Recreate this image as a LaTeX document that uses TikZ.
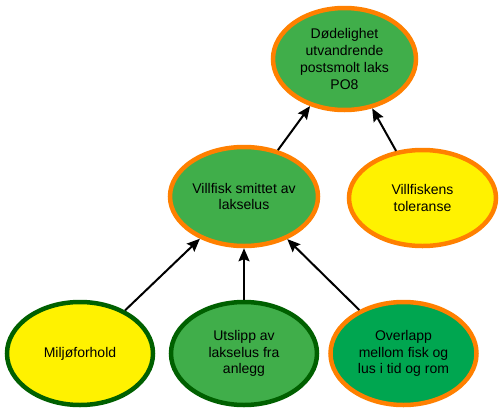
\documentclass[tikz,border=0pt]{standalone}
\usepackage{fontspec}
\setmainfont{Liberation Sans}
\usepackage{tikz}
\usetikzlibrary{shapes.geometric,arrows.meta}
\definecolor{FillGreen}{RGB}{64,174,74}
\definecolor{FillDeep}{RGB}{0,166,80}
\definecolor{FillYellow}{RGB}{255,242,0}
\definecolor{LineOrange}{RGB}{255,128,0}
\definecolor{LineGreen}{RGB}{0,96,0}
\tikzstyle{Factor} = [ellipse, line width=4.5pt, minimum width=146pt,
    minimum height=101pt, inner sep=0pt, align=center,
    font=\fontsize{14}{16.8}\selectfont]
\tikzstyle{arrow} = [line width=2pt,-{Stealth[length=13pt,width=11pt,inset=2pt]}]

\begin{document}
\begin{tikzpicture}[x=1pt,y=-1pt]
        \useasboundingbox (0,0) rectangle (504,413);
        \node[Factor, draw=LineOrange, fill=FillGreen, minimum width=143pt, minimum height=102pt] (Mortality) at (344.5,59) {Dødelighet\\utvandrende\\postsmolt laks\\PO8}; %top
        \node[Factor, draw=LineOrange, fill=FillGreen, minimum width=148pt, minimum height=99pt] (Infected) at (244,196.5) {Villfisk smittet av\\lakselus}; %middle left
        \node[Factor, draw=LineOrange, fill=FillYellow, minimum width=147pt, minimum height=96pt] (Tolerance) at (422.5,198) {Villfiskens\\toleranse}; %middle right
        \node[Factor, draw=LineGreen, fill=FillYellow, minimum height=103pt] (Environment) at (80,353.5) {Miljøforhold}; %bottom left
        \node[Factor, draw=LineGreen, fill=FillGreen, minimum height=103pt] (Release) at (244,353.5) {Utslipp av\\lakselus fra\\anlegg}; %bottom middle
        \node[Factor, draw=LineOrange, fill=FillDeep, minimum height=103pt] (Overlap) at (403.5,353.5) {Overlapp\\mellom fisk og\\lus i tid og rom}; %bottom right
        \draw[arrow] (Environment) -- (Infected);
        \draw[arrow] (Release) -- (Infected);
        \draw[arrow] (Overlap) -- (Infected);
        \draw[arrow] (Infected) -- (Mortality);
        \draw[arrow] (Tolerance) -- (Mortality);
    \end{tikzpicture}
\end{document}
